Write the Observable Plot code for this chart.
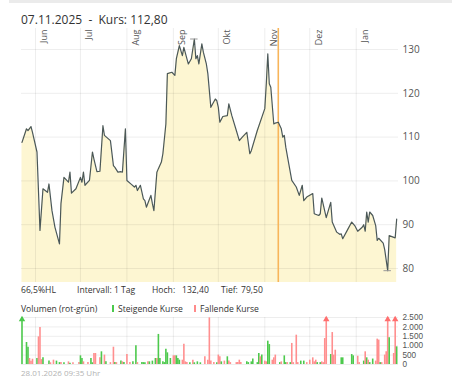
<!DOCTYPE html>
<html>
<head>
<meta charset="utf-8">
<script src="https://cdn.jsdelivr.net/npm/d3@7"></script>
<script src="https://cdn.jsdelivr.net/npm/@observablehq/plot@0.6"></script>
<style>
  html, body { margin: 0; padding: 0; background: #fff; overflow: hidden; }
  #wrap { position: relative; width: 452px; height: 378px; font-family: "Open Sans", sans-serif; }
  .abs { position: absolute; white-space: pre; }
  #topbar { position: absolute; left: 9px; top: 0; width: 443px; height: 3px; background: #ebebeb; }
  #title { left: 21px; top: 12px; font-size: 12px; line-height: 16px; color: #333; }
  .info { font-size: 8.6px; line-height: 10px; color: #333; }
  .mark { position: absolute; width: 2px; height: 7px; }
  #stamp { left: 21px; top: 368px; font-size: 8px; line-height: 10px; color: #b3b3b3; }
</style>
</head>
<body>
<div id="wrap">
  <div id="topbar"></div>
  <div id="title" class="abs">07.11.2025  -  Kurs: 112,80</div>
  <div class="abs info" style="left:21px;top:285px">66,5%HL</div>
  <div class="abs info" style="left:77px;top:285px">Intervall: 1 Tag</div>
  <div class="abs info" style="left:152px;top:285px">Hoch:</div>
  <div class="abs info" style="left:182px;top:285px">132,40</div>
  <div class="abs info" style="left:221px;top:285px">Tief:</div>
  <div class="abs info" style="left:241px;top:285px">79,50</div>
  <div class="abs info" style="left:21px;top:304px">Volumen (rot-grün)</div>
  <div class="mark" style="left:112px;top:305px;background:#4cc94c"></div>
  <div class="abs info" style="left:118px;top:304px">Steigende Kurse</div>
  <div class="mark" style="left:194px;top:305px;background:#ff8a8a"></div>
  <div class="abs info" style="left:200px;top:304px">Fallende Kurse</div>
  <div id="stamp" class="abs">28.01.2026 09:35 Uhr</div>
</div>
<script>
// ---------- data ----------
const priceDates = [
  "2025-05-23","2025-05-26","2025-05-27","2025-05-29","2025-05-30",
  "2025-06-02","2025-06-04","2025-06-06","2025-06-09","2025-06-10","2025-06-12","2025-06-14","2025-06-17","2025-06-18","2025-06-20","2025-06-23","2025-06-24","2025-06-25","2025-06-28",
  "2025-07-01","2025-07-02","2025-07-03","2025-07-04","2025-07-07","2025-07-09","2025-07-10","2025-07-12","2025-07-14","2025-07-16","2025-07-17","2025-07-21","2025-07-23","2025-07-24","2025-07-26","2025-07-28","2025-07-29","2025-07-31",
  "2025-08-01","2025-08-04","2025-08-06","2025-08-07","2025-08-08","2025-08-10","2025-08-12","2025-08-13","2025-08-14","2025-08-17","2025-08-18","2025-08-19","2025-08-21","2025-08-22","2025-08-24","2025-08-25","2025-08-27","2025-08-28","2025-08-31",
  "2025-09-02","2025-09-03","2025-09-05","2025-09-07","2025-09-08","2025-09-10","2025-09-11","2025-09-13","2025-09-15","2025-09-16","2025-09-17","2025-09-18","2025-09-20","2025-09-21","2025-09-23","2025-09-24","2025-09-26","2025-09-29","2025-09-30",
  "2025-10-01","2025-10-02","2025-10-04","2025-10-07","2025-10-08","2025-10-10","2025-10-13","2025-10-15","2025-10-17","2025-10-20","2025-10-22","2025-10-23","2025-10-27","2025-10-30",
  "2025-11-01","2025-11-02","2025-11-03","2025-11-04","2025-11-05","2025-11-07","2025-11-08","2025-11-10","2025-11-12","2025-11-13","2025-11-14","2025-11-15","2025-11-17","2025-11-19","2025-11-22","2025-11-24","2025-11-26","2025-11-27","2025-11-29",
  "2025-12-01","2025-12-03","2025-12-04","2025-12-07","2025-12-08","2025-12-09","2025-12-12","2025-12-15","2025-12-16","2025-12-19","2025-12-21","2025-12-22","2025-12-23","2025-12-26","2025-12-29","2025-12-31",
  "2026-01-02","2026-01-05","2026-01-06","2026-01-07","2026-01-08","2026-01-09","2026-01-10","2026-01-12","2026-01-14","2026-01-15","2026-01-16","2026-01-19","2026-01-20","2026-01-22","2026-01-23","2026-01-27","2026-01-28"
];
const priceValues = [
  108.8,111.9,111.5,112.4,111.1,
  106.6,88.7,98.2,97.4,99.3,93.2,89.4,85.6,94.8,100.8,99.7,102.0,97.2,98.2,
  100.8,99.7,102.0,99.0,100.1,106.6,105.0,102.1,102.2,112.6,110.4,109.2,103.5,103.1,102.0,102.1,102.0,111.9,
  100.1,99.2,98.6,99.0,97.8,99.0,95.9,95.5,94.0,96.7,94.8,93.2,102.0,102.8,104.3,106.2,113.0,124.5,124.8,
  124.1,127.9,130.9,128.6,130.5,127.9,126.7,127.9,132.4,127.9,128.6,126.7,131.3,129.4,126.7,124.5,116.8,118.7,118.3,
  116.8,113.4,114.7,114.9,117.6,114.9,111.5,109.2,110.0,111.1,106.2,106.9,111.5,114.5,
  116.5,122.2,129.0,122.2,121.4,113.0,113.2,113.4,111.9,110.0,110.4,107.7,103.9,100.1,98.6,96.7,99.0,95.5,96.3,
  96.7,97.1,92.5,92.1,92.5,96.1,91.6,95.1,90.6,88.3,87.8,87.9,86.8,88.7,90.6,89.8,
  88.5,89.4,90.0,88.5,92.9,90.6,92.9,92.1,89.8,86.4,86.9,85.8,84.3,79.5,87.5,87.0,91.3
];
const hiLoDates = ["2025-09-15", "2026-01-22"];
const hiLoValues = [132.4, 79.5];
const cursorDate = "2025-11-10";

const monthStarts = ["2025-06-01","2025-07-01","2025-08-01","2025-09-01","2025-10-01","2025-11-01","2025-12-01","2026-01-01"];
const monthNames = ["Jun","Jul","Aug","Sep","Okt","Nov","Dez","Jan"];
const priceTicks = [80, 90, 100, 110, 120, 130];
const volTicks = [0, 500, 1000, 1500, 2000, 2500];

const volDates = [
  "2025-05-23","2025-05-26","2025-05-27","2025-05-28","2025-05-29","2025-05-30",
  "2025-06-02","2025-06-03","2025-06-04","2025-06-05","2025-06-06","2025-06-10","2025-06-11","2025-06-13","2025-06-15","2025-06-17","2025-06-18","2025-06-20","2025-06-23","2025-06-24","2025-06-26","2025-06-30",
  "2025-07-01","2025-07-02","2025-07-03","2025-07-06","2025-07-08","2025-07-09","2025-07-10","2025-07-11","2025-07-14","2025-07-15","2025-07-17","2025-07-18","2025-07-21","2025-07-23","2025-07-24","2025-07-25","2025-07-28","2025-07-29","2025-07-30",
  "2025-08-01","2025-08-03","2025-08-05","2025-08-07","2025-08-08","2025-08-11","2025-08-12","2025-08-13","2025-08-15","2025-08-16","2025-08-18","2025-08-20","2025-08-21","2025-08-22","2025-08-23","2025-08-25","2025-08-26","2025-08-27","2025-08-28","2025-08-30",
  "2025-09-01","2025-09-02","2025-09-03","2025-09-04","2025-09-05","2025-09-07","2025-09-08","2025-09-09","2025-09-10","2025-09-12","2025-09-14","2025-09-15","2025-09-17","2025-09-19","2025-09-22","2025-09-24","2025-09-25","2025-09-26","2025-09-28","2025-09-30",
  "2025-10-01","2025-10-02","2025-10-03","2025-10-05","2025-10-07","2025-10-08","2025-10-09","2025-10-13","2025-10-14","2025-10-15","2025-10-16","2025-10-20","2025-10-21","2025-10-23","2025-10-24","2025-10-27","2025-10-28","2025-10-29","2025-10-30",
  "2025-11-01","2025-11-02","2025-11-03","2025-11-04","2025-11-06","2025-11-07","2025-11-08","2025-11-11","2025-11-12","2025-11-14","2025-11-15","2025-11-16","2025-11-18","2025-11-19","2025-11-20","2025-11-22","2025-11-23","2025-11-25","2025-11-27","2025-11-29",
  "2025-12-01","2025-12-03","2025-12-04","2025-12-05","2025-12-06","2025-12-08","2025-12-09","2025-12-10","2025-12-11","2025-12-12","2025-12-15","2025-12-16","2025-12-17","2025-12-18","2025-12-22","2025-12-23","2025-12-29","2025-12-30",
  "2026-01-02","2026-01-03","2026-01-06","2026-01-07","2026-01-08","2026-01-09","2026-01-10","2026-01-12","2026-01-14","2026-01-15","2026-01-16","2026-01-17","2026-01-18","2026-01-20","2026-01-21","2026-01-22","2026-01-23","2026-01-26","2026-01-27","2026-01-28"
];
const volValues = [
  3000,1170,920,320,170,280,
  320,1470,1970,260,355,180,90,230,180,100,100,90,140,70,90,100,
  460,320,140,110,320,90,585,585,355,675,500,140,100,920,100,100,180,140,100,
  530,100,140,995,100,100,100,90,140,140,180,320,320,1600,320,140,100,815,620,320,
  460,460,460,320,230,230,1080,140,100,90,230,90,140,90,410,230,2480,180,100,90,
  500,410,140,180,410,180,100,100,100,230,100,140,100,140,290,100,585,410,500,
  180,140,1240,1060,230,355,500,100,140,460,100,100,100,1120,100,1560,100,180,180,100,
  230,355,140,230,100,100,140,100,1380,3500,530,1700,500,760,355,355,530,460,
  440,100,180,675,355,230,100,290,180,1350,1300,100,100,500,675,3200,1420,585,3000,940
];
const volUp = [
  1,1,1,0,0,0,
  1,0,0,0,1,1,0,0,1,1,0,1,0,1,0,0,
  1,1,0,0,1,1,0,0,0,1,0,1,0,0,1,0,1,0,1,
  0,0,1,1,0,1,1,1,0,1,1,1,0,1,1,1,1,1,1,1,
  0,0,1,1,1,0,0,0,0,1,0,1,1,1,0,0,0,0,0,1,
  0,0,1,0,1,0,0,0,0,0,0,1,1,1,1,1,1,0,1,
  0,0,1,1,0,0,0,1,0,1,1,0,1,0,0,0,0,1,1,0,
  0,0,0,0,1,1,0,0,0,0,1,0,0,0,1,1,1,1,
  0,0,1,0,1,0,1,1,0,0,0,1,0,0,0,0,1,0,0,1
];

// ---------- build ----------
const DAY = 864e5;
const xDomain = [new Date("2025-05-22T16:00Z"), new Date("2026-01-29T05:00Z")];
const priceData = priceDates.map((d, i) => ({date: new Date(d), value: priceValues[i]}));
const hiLo = hiLoDates.map((d, i) => ({date: new Date(d), value: hiLoValues[i]}));
const months = monthStarts.map((d, i) => ({date: new Date(d), name: monthNames[i]}));
const volData = volDates.map((d, i) => ({date: new Date(d), volume: volValues[i], up: volUp[i] === 1}));
const GREEN = "#4cc94c", RED = "#ff8f8f";
const deFmt = v => d3.format(",")(v).replace(/,/g, ".");

const main = Plot.plot({
  width: 452, height: 259,
  marginTop: 2, marginBottom: 3, marginLeft: 21, marginRight: 54,
  style: {fontFamily: "Open Sans", fontSize: "9px", color: "#555", background: "transparent"},
  x: {type: "utc", domain: xDomain, axis: null},
  y: {domain: [76.8, 134.8], axis: null},
  marks: [
    Plot.areaY(priceData, {x: "date", y: "value", fill: "#fdf6d2", clip: true}),
    Plot.ruleY(priceTicks, {stroke: "#000", strokeOpacity: 0.07}),
    Plot.ruleX(months, {x: "date", stroke: "#000", strokeOpacity: 0.07}),
    Plot.ruleX([new Date(cursorDate)], {stroke: "#f8b55a", strokeWidth: 1.6}),
    Plot.lineY(priceData, {x: "date", y: "value", stroke: "#4b5858", strokeWidth: 1.2}),
    Plot.ruleY(hiLo, {y: "value", x1: d => new Date(+d.date - 2.5 * DAY), x2: d => new Date(+d.date + 2.5 * DAY), stroke: "#999", strokeWidth: 1}),
    Plot.text(months, {x: "date", text: "name", frameAnchor: "top", rotate: -90, textAnchor: "end", dx: 5.5, dy: 1, fontSize: 9, fill: "#555"}),
    Plot.axisY({anchor: "right", ticks: priceTicks, tickSize: 0, tickPadding: 4, fontSize: 10, label: null})
  ]
});
main.style.position = "absolute";
main.style.left = "0px";
main.style.top = "26px";
document.getElementById("wrap").appendChild(main);

const vol = Plot.plot({
  width: 452, height: 56,
  marginTop: 5, marginBottom: 4, marginLeft: 21, marginRight: 54,
  style: {fontFamily: "Liberation Sans", fontSize: "8.2px", color: "#555", background: "transparent"},
  x: {type: "utc", domain: xDomain, axis: null},
  y: {domain: [0, 2500], axis: null},
  marks: [
    Plot.ruleY(volTicks, {stroke: "#000", strokeOpacity: 0.07}),
    Plot.ruleX(months, {x: "date", stroke: "#000", strokeOpacity: 0.07}),
    Plot.ruleX(volData, {x: "date", y1: 0, y2: "volume", stroke: d => d.up ? GREEN : RED, strokeWidth: 1.6, clip: true}),
    Plot.dot(volData.filter(d => d.volume > 2500), {x: "date", y: 2500, symbol: "triangle", r: 2.4, fill: d => d.up ? GREEN : "#ff6f6f", stroke: "none", dy: 2}),
    Plot.axisY({anchor: "right", ticks: volTicks, tickFormat: deFmt, tickSize: 0, tickPadding: 4, fontSize: 8.2, fontFamily: "Liberation Sans", label: null})
  ]
});
vol.style.position = "absolute";
vol.style.left = "0px";
vol.style.top = "312px";
document.getElementById("wrap").appendChild(vol);
</script>
</body>
</html>
